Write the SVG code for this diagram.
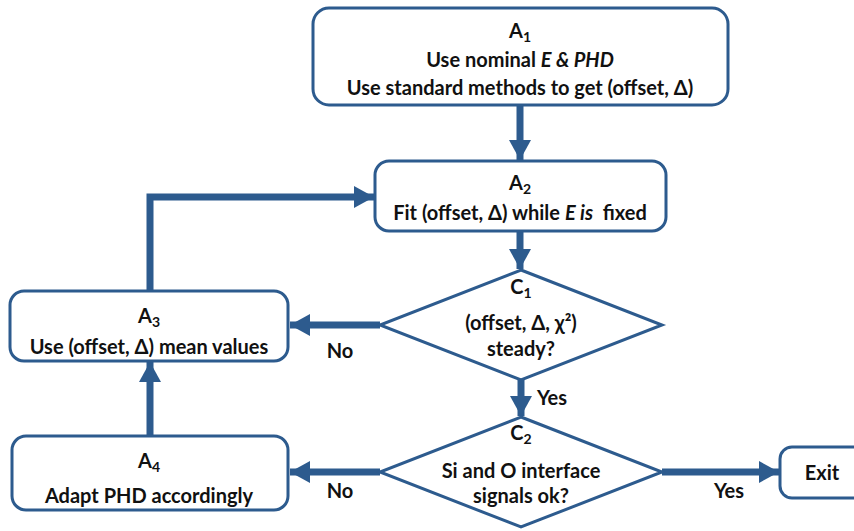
<svg xmlns="http://www.w3.org/2000/svg" width="854" height="531" viewBox="0 0 854 531">
<defs>
<marker id="ah" markerUnits="userSpaceOnUse" markerWidth="22" markerHeight="22" viewBox="0 0 20 22" refX="20" refY="11" orient="auto">
<path d="M0,0 L20,11 L0,22 Z" fill="#2D5B8E"/>
</marker>
<style>
.box{fill:#fff;stroke:#2D5B8E;stroke-width:3}
.con{fill:none;stroke:#2D5B8E;stroke-width:7;marker-end:url(#ah)}
text{font-family:Lato,"Open Sans","Liberation Sans",sans-serif;font-weight:bold;font-size:20px;fill:#111;text-anchor:middle}
.sub{font-size:14px}
</style>
</defs>
<rect width="854" height="531" fill="#fff"/>
<g id="connectors">
<path class="con" d="M520,105 V160"/>
<path class="con" d="M520,231 V269"/>
<path class="con" d="M521,380 V416"/>
<path class="con" d="M380,325 H290"/>
<path class="con" d="M380,472 H290"/>
<path class="con" d="M662,472 H779"/>
<path class="con" d="M150,436 V362"/>
<path class="con" d="M150,291 V197 H374"/>
<text x="552" y="405">Yes</text>
<text x="729" y="498">Yes</text>
<text x="340" y="358">No</text>
<text x="340" y="498">No</text>
</g>
<g id="A1">
<rect class="box" x="313" y="8" width="415" height="97" rx="16"/>
<text x="520" y="38">A<tspan class="sub" dy="4">1</tspan></text>
<text x="520" y="67">Use nominal <tspan font-style="italic">E &amp; PHD</tspan></text>
<text x="520" y="95">Use standard methods to get (offset, Δ)</text>
</g>
<g id="A2">
<rect class="box" x="375" y="161" width="291" height="70" rx="14"/>
<text x="520" y="190">A<tspan class="sub" dy="4">2</tspan></text>
<text x="520" y="220" xml:space="preserve">Fit (offset, Δ) while <tspan font-style="italic">E is</tspan>  fixed</text>
</g>
<g id="C1">
<path class="box" d="M521,270 L662,325 L521,380 L380,325 Z"/>
<text x="521" y="294">C<tspan class="sub" dy="4">1</tspan></text>
<text x="521" y="330">(offset, Δ, χ²)</text>
<text x="521" y="356">steady?</text>
</g>
<g id="C2">
<path class="box" d="M521,417 L662,472 L521,527 L380,472 Z"/>
<text x="521" y="440">C<tspan class="sub" dy="4">2</tspan></text>
<text x="521" y="478">Si and O interface</text>
<text x="521" y="503">signals ok?</text>
</g>
<g id="A3">
<rect class="box" x="10" y="291" width="278" height="70" rx="14"/>
<text x="149" y="323">A<tspan class="sub" dy="4">3</tspan></text>
<text x="149" y="354">Use (offset, Δ) mean values</text>
</g>
<g id="A4">
<rect class="box" x="12" y="436" width="276" height="74" rx="14"/>
<text x="149" y="468">A<tspan class="sub" dy="4">4</tspan></text>
<text x="149" y="503">Adapt PHD accordingly</text>
</g>
<g id="Exit">
<rect class="box" x="780" y="447" width="90" height="51" rx="12"/>
<text x="822" y="480">Exit</text>
</g>
</svg>
